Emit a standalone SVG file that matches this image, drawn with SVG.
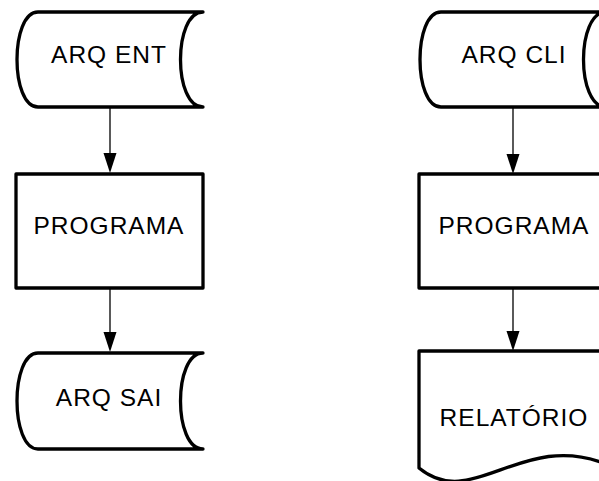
<svg xmlns="http://www.w3.org/2000/svg" width="599" height="481" viewBox="0 0 599 481">
<defs>
<style>
.shape{fill:#fff;stroke:#000;stroke-width:3.3;stroke-linejoin:round;stroke-linecap:round}
.lbl{font-family:"Liberation Sans",Arial,sans-serif;font-size:24.5px;letter-spacing:1px;text-anchor:middle;fill:#000}
.conn{stroke:#000;stroke-width:1.3;fill:none}
.head{fill:#000;stroke:none}
</style>
</defs>
<rect width="599" height="481" fill="#fff"/>
<g id="arq-ent">
<path class="shape" d="M38,12 H203 C173,12 173,107 203,107 H38 C10,107 10,12 38,12 Z"/>
<text class="lbl" x="109" y="63">ARQ ENT</text>
</g>
<g id="programa-1">
<rect class="shape" x="16" y="174" width="187" height="114"/>
<text class="lbl" x="109" y="234">PROGRAMA</text>
</g>
<g id="arq-sai">
<path class="shape" d="M38,353 H203 C173,353 173,449 203,449 H38 C10,449 10,353 38,353 Z"/>
<text class="lbl" x="109" y="406">ARQ SAI</text>
</g>
<g id="arq-cli">
<path class="shape" d="M441,12 H606 C576,12 576,107 606,107 H441 C413,107 413,12 441,12 Z"/>
<text class="lbl" x="514" y="63">ARQ CLI</text>
</g>
<g id="programa-2">
<rect class="shape" x="419" y="174" width="187" height="114"/>
<text class="lbl" x="514" y="234">PROGRAMA</text>
</g>
<g id="relatorio">
<path class="shape" d="M419,351 H606 V464 C522,430 472,512 419,468 Z"/>
<text class="lbl" x="514" y="426">RELATÓRIO</text>
</g>
<g id="connectors">
<line class="conn" x1="110" y1="108" x2="110" y2="160"/>
<polygon class="head" points="103.5,153 116.5,153 110,173"/>
<line class="conn" x1="110" y1="289" x2="110" y2="340"/>
<polygon class="head" points="103.5,332 116.5,332 110,352"/>
<line class="conn" x1="513" y1="108" x2="513" y2="160"/>
<polygon class="head" points="506.5,154 519.5,154 513,174"/>
<line class="conn" x1="513" y1="289" x2="513" y2="340"/>
<polygon class="head" points="506.5,331 519.5,331 513,351"/>
</g>
</svg>
